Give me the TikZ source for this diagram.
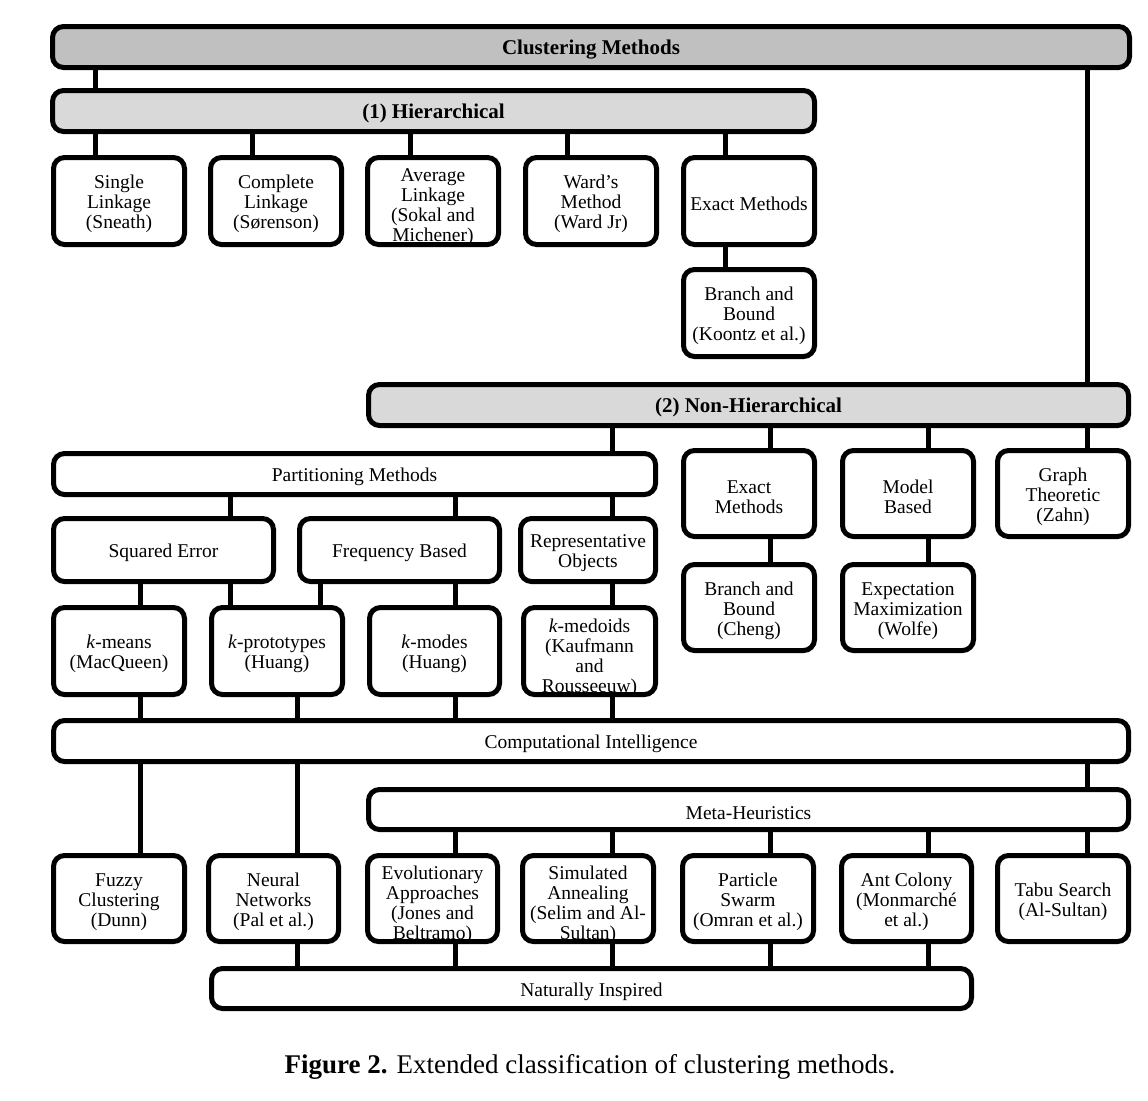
\documentclass[tikz,border=0pt]{standalone}
\usepackage{fontspec}
\setmainfont{Liberation Serif}
\newcommand{\bodyfont}{\fontsize{19.5}{20}\selectfont}
\newcommand{\headfont}{\fontsize{21}{22}\selectfont\bfseries}
\definecolor{darkgr}{HTML}{C0C0C0}
\definecolor{lightgr}{HTML}{D9D9D9}
\begin{document}
\begin{tikzpicture}[x=1pt,y=-1pt,
  box/.style={draw, line width=5pt, rounded corners=11pt, fill=white, align=flush center, inner sep=0pt, font=\bodyfont,
    text width=124pt, execute at begin node={\rule{0pt}{19.5pt}}},
  wide/.style={text width=500pt},
  mid/.style={text width=190pt},
  head/.style={box, wide, font=\headfont},
  txt/.style={align=flush center, inner sep=0pt, font=\bodyfont},
  conn/.style={line width=5pt}]
\useasboundingbox (0,0) rectangle (1148,1100);

% x positions of connectors
\foreach \xx in {95,140,230,252,297,320,410,455,567,612,725,770,928,1087}{\coordinate (x\xx) at (\xx,0);}

% top
\node[head, fill=darkgr, minimum width=1077pt, minimum height=41pt] (cm) at (591,47) {Clustering Methods};
\node[head, fill=lightgr, minimum width=762pt, minimum height=41pt] (hier) at (433.5,111) {(1) Hierarchical};

% row 1
\node[box, minimum width=131pt, minimum height=87pt] (sl) at (119,201) {Single\\Linkage\\(Sneath)};
\node[box, minimum width=131pt, minimum height=87pt] (cl) at (276,201) {Complete\\Linkage\\(Sørenson)};
\node[box, minimum width=131pt, minimum height=87pt,
  path picture={\node[txt] at ([yshift=-3pt]path picture bounding box.center) {Average\\Linkage\\(Sokal and\\Michener)};}] (al) at (433,201) {};
\node[box, minimum width=131pt, minimum height=87pt] (wm) at (591,201) {Ward’s\\Method\\(Ward Jr)};
\node[box, minimum width=131pt, minimum height=87pt] (em1) at (749,201) {Exact Methods};
\node[box, minimum width=131pt, minimum height=87pt] (bb1) at (749,313) {Branch and\\Bound\\(Koontz et al.)};

% non-hierarchical
\node[head, fill=lightgr, minimum width=760pt, minimum height=41pt] (nh) at (748.5,405) {(2) Non-Hierarchical};
\node[box, wide, minimum width=602pt, minimum height=41pt] (pm) at (354.5,474) {Partitioning Methods};
\node[box, minimum width=131pt, minimum height=86pt] (em2) at (749,493.5) {Exact\\Methods};
\node[box, minimum width=131pt, minimum height=86pt] (mb) at (908,493.5) {Model\\Based};
\node[box, minimum width=131pt, minimum height=86pt] (gt) at (1063,493.5) {Graph\\Theoretic\\(Zahn)};
\node[box, minimum width=131pt, minimum height=86pt] (bb2) at (749,607.5) {Branch and\\Bound\\(Cheng)};
\node[box, minimum width=131pt, minimum height=86pt] (emx) at (908,607.5) {Expectation\\Maximization\\(Wolfe)};

\node[box, mid, minimum width=220pt, minimum height=63pt] (se) at (163.5,550) {Squared Error};
\node[box, mid, minimum width=200pt, minimum height=63pt] (fb) at (399.5,550) {Frequency Based};
\node[box, minimum width=135pt, minimum height=63pt] (ro) at (588,550) {Representative\\Objects};

\node[box, minimum width=131pt, minimum height=87pt] (km) at (119,651) {\textit{k}-means\\(MacQueen)};
\node[box, minimum width=131pt, minimum height=87pt] (kp) at (277,651) {\textit{k}-prototypes\\(Huang)};
\node[box, minimum width=130pt, minimum height=87pt] (kmo) at (434.5,651) {\textit{k}-modes\\(Huang)};
\node[box, minimum width=132pt, minimum height=87pt,
  path picture={\node[txt] at ([yshift=-4pt]path picture bounding box.center) {\textit{k}-medoids\\(Kaufmann\\and\\Rousseeuw)};}] (kmed) at (589.5,651) {};

% computational intelligence
\node[box, wide, minimum width=1075pt, minimum height=41pt] (ci) at (591,741) {Computational Intelligence};
\node[box, wide, minimum width=760pt, minimum height=40pt] (mh) at (748.5,809.5) {Meta-Heuristics};

\node[box, minimum width=131pt, minimum height=86pt] (fz) at (119,898.5) {Fuzzy\\Clustering\\(Dunn)};
\node[box, minimum width=130pt, minimum height=86pt] (nn) at (273.5,898.5) {Neural\\Networks\\(Pal et al.)};
\node[box, minimum width=130pt, minimum height=86pt,
  path picture={\node[txt] at ([yshift=-3.5pt]path picture bounding box.center) {Evolutionary\\Approaches\\(Jones and\\Beltramo)};}] (ea) at (432.5,898.5) {};
\node[box, minimum width=131pt, minimum height=86pt,
  path picture={\node[txt] at ([yshift=-3.5pt]path picture bounding box.center) {Simulated\\Annealing\\(Selim and Al-\\Sultan)};}] (sa) at (588,898.5) {};
\node[box, minimum width=131pt, minimum height=86pt] (ps) at (748,898.5) {Particle\\Swarm\\(Omran et al.)};
\node[box, minimum width=130pt, minimum height=86pt] (ac) at (906.5,898.5) {Ant Colony\\(Monmarché\\et al.)};
\node[box, minimum width=131pt, minimum height=86pt] (ts) at (1063,898.5) {Tabu Search\\(Al-Sultan)};

\node[box, wide, minimum width=760pt, minimum height=40pt] (ni) at (591.5,988.5) {Naturally Inspired};

% caption
\node[inner sep=0pt, font=\fontsize{27}{30}\selectfont] (cap) at (590,1067) {\textbf{Figure 2.} Extended classification of clustering methods.};

% connectors
\draw[conn] (cm.south -| x95) -- (hier.north -| x95);
\draw[conn] (cm.south -| x1087) -- (nh.north -| x1087);
\draw[conn] (hier.south -| x95) -- (sl.north -| x95);
\draw[conn] (hier.south -| x252) -- (cl.north -| x252);
\draw[conn] (hier.south -| x410) -- (al.north -| x410);
\draw[conn] (hier.south -| x567) -- (wm.north -| x567);
\draw[conn] (hier.south -| x725) -- (em1.north -| x725);
\draw[conn] (em1.south -| x725) -- (bb1.north -| x725);

\draw[conn] (nh.south -| x612) -- (pm.north -| x612);
\draw[conn] (nh.south -| x770) -- (em2.north -| x770);
\draw[conn] (nh.south -| x928) -- (mb.north -| x928);
\draw[conn] (nh.south -| x1087) -- (gt.north -| x1087);
\draw[conn] (em2.south -| x770) -- (bb2.north -| x770);
\draw[conn] (mb.south -| x928) -- (emx.north -| x928);

\draw[conn] (pm.south -| x230) -- (se.north -| x230);
\draw[conn] (pm.south -| x455) -- (fb.north -| x455);
\draw[conn] (pm.south -| x612) -- (ro.north -| x612);
\draw[conn] (se.south -| x140) -- (km.north -| x140);
\draw[conn] (se.south -| x230) -- (kp.north -| x230);
\draw[conn] (fb.south -| x320) -- (kp.north -| x320);
\draw[conn] (fb.south -| x455) -- (kmo.north -| x455);
\draw[conn] (ro.south -| x612) -- (kmed.north -| x612);

\draw[conn] (km.south -| x140) -- (ci.north -| x140);
\draw[conn] (kp.south -| x297) -- (ci.north -| x297);
\draw[conn] (kmo.south -| x455) -- (ci.north -| x455);
\draw[conn] (kmed.south -| x612) -- (ci.north -| x612);

\draw[conn] (ci.south -| x140) -- (fz.north -| x140);
\draw[conn] (ci.south -| x297) -- (nn.north -| x297);
\draw[conn] (ci.south -| x1087) -- (mh.north -| x1087);

\draw[conn] (mh.south -| x455) -- (ea.north -| x455);
\draw[conn] (mh.south -| x612) -- (sa.north -| x612);
\draw[conn] (mh.south -| x770) -- (ps.north -| x770);
\draw[conn] (mh.south -| x928) -- (ac.north -| x928);
\draw[conn] (mh.south -| x1087) -- (ts.north -| x1087);

\draw[conn] (nn.south -| x297) -- (ni.north -| x297);
\draw[conn] (ea.south -| x455) -- (ni.north -| x455);
\draw[conn] (sa.south -| x612) -- (ni.north -| x612);
\draw[conn] (ps.south -| x770) -- (ni.north -| x770);
\draw[conn] (ac.south -| x928) -- (ni.north -| x928);
\end{tikzpicture}
\end{document}
